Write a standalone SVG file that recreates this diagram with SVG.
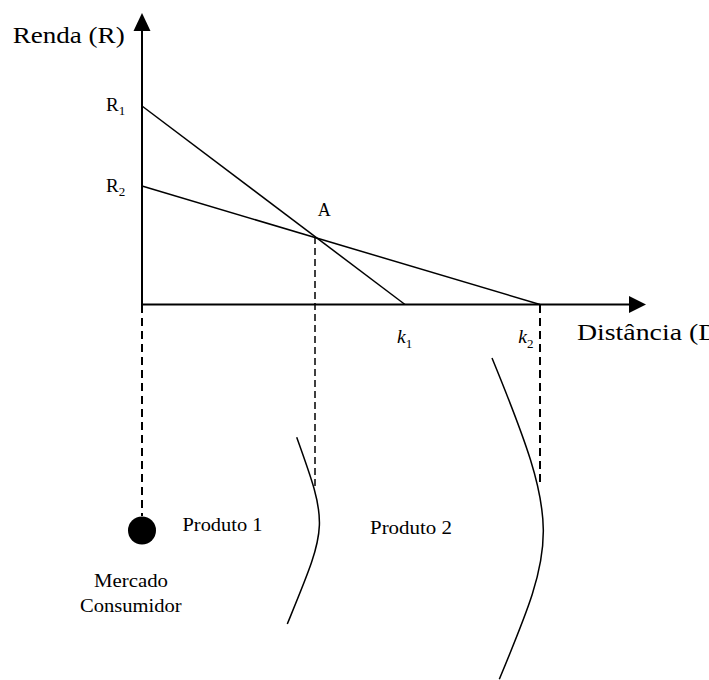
<svg xmlns="http://www.w3.org/2000/svg" width="709" height="680" viewBox="0 0 709 680">
<style>
.t{font-family:"Liberation Serif","Times New Roman",Times,serif;fill:#000}
.ax{stroke:#000;stroke-width:2;fill:none}
.ln{stroke:#000;stroke-width:1.5;fill:none}
.ds{stroke:#000;stroke-width:2;fill:none;stroke-dasharray:8,5}
.ds2{stroke:#000;stroke-width:1.5;fill:none;stroke-dasharray:7,4}
</style>
<rect width="709" height="680" fill="#fff"/>
<g id="axes">
<line class="ax" x1="142" y1="305" x2="142" y2="30"/>
<polygon points="142,13 133.5,31 150.5,31" fill="#000"/>
<line class="ax" x1="141" y1="304.5" x2="630" y2="304.5"/>
<polygon points="646,304.5 629,296 629,313" fill="#000"/>
</g>
<g id="connectors">
<line class="ln" x1="142" y1="106" x2="405" y2="304.5"/>
<line class="ln" x1="142" y1="186" x2="540" y2="304.5"/>
<line class="ds" x1="142" y1="305" x2="142" y2="516"/>
<line class="ds2" x1="315" y1="237" x2="315" y2="486"/>
<line class="ds" x1="540" y1="305" x2="540" y2="486"/>
<path class="ln" d="M296.7,437.3 C328.9,526.8 327.9,525 287.3,624"/>
<path class="ln" d="M492,358 C561.4,527.3 557,540.3 499.3,679.3"/>
</g>
<g id="market">
<circle cx="142" cy="530.5" r="14" fill="#000"/>
<text class="t" x="94" y="586.7" font-size="19" textLength="74" lengthAdjust="spacingAndGlyphs">Mercado</text>
<text class="t" x="80" y="612.3" font-size="19" textLength="101.7" lengthAdjust="spacingAndGlyphs">Consumidor</text>
</g>
<g id="labels">
<text class="t" x="12.7" y="43.3" font-size="24" textLength="112" lengthAdjust="spacingAndGlyphs">Renda (R)</text>
<text class="t" x="577" y="340" font-size="24" textLength="150.5" lengthAdjust="spacingAndGlyphs">Distância (D)</text>
<text class="t" x="106" y="110.7" font-size="19">R<tspan font-size="13" dy="4">1</tspan></text>
<text class="t" x="106" y="192" font-size="19">R<tspan font-size="13" dy="3.5">2</tspan></text>
<text class="t" x="317.7" y="216" font-size="18">A</text>
<text class="t" x="397" y="343.3" font-size="19.5" font-style="italic">k<tspan font-size="13" font-style="normal" dy="5">1</tspan></text>
<text class="t" x="518.3" y="343.3" font-size="19.5" font-style="italic">k<tspan font-size="13" font-style="normal" dy="5">2</tspan></text>
<text class="t" x="182.5" y="531.3" font-size="19" textLength="80" lengthAdjust="spacingAndGlyphs">Produto 1</text>
<text class="t" x="370" y="534" font-size="19" textLength="82" lengthAdjust="spacingAndGlyphs">Produto 2</text>
</g>
</svg>
